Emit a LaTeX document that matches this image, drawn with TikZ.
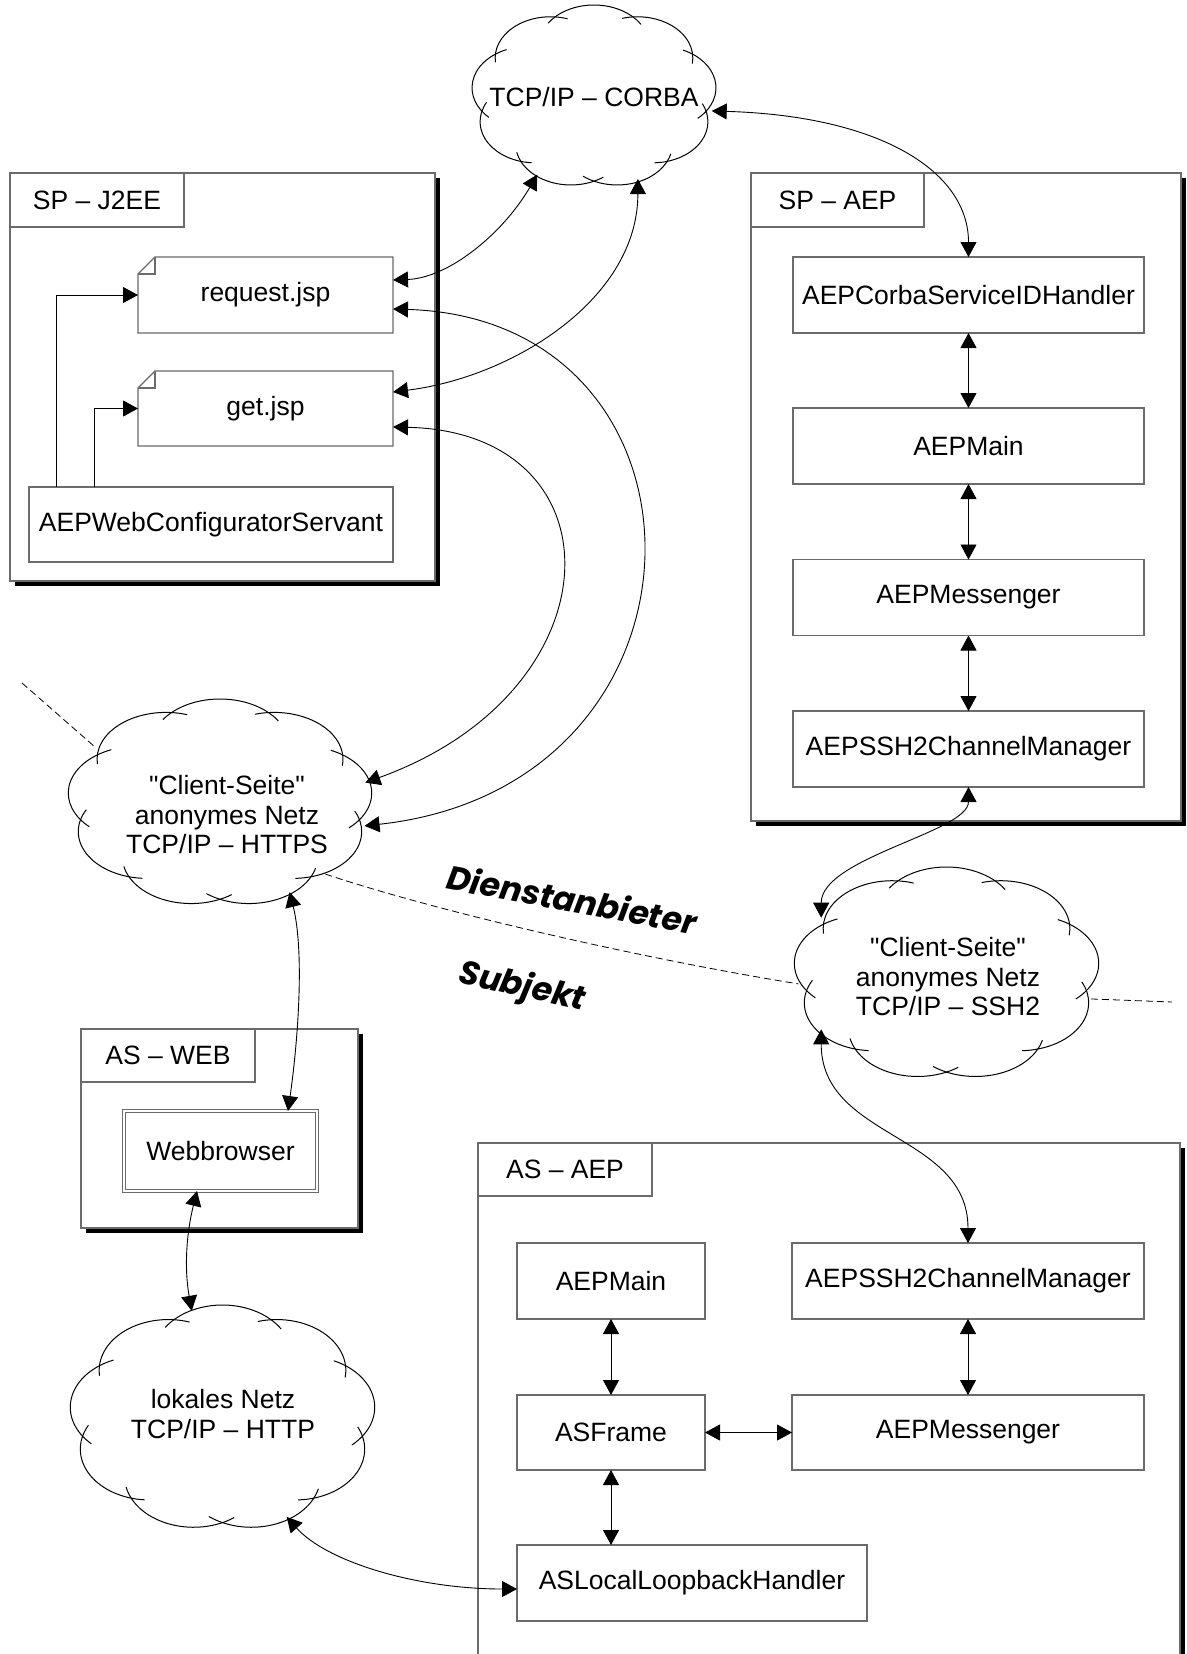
\documentclass[tikz,border=0pt]{standalone}
\usepackage{fontspec}
\setmainfont{Liberation Sans}
\newfontfamily\qfont{Liberation Sans}[Ligatures=TeXOff]
\newfontfamily\heavyfont{Poppins}
\usetikzlibrary{arrows.meta,shapes.geometric,shadows}
\definecolor{boxgray}{gray}{0.42}
\newcommand{\dq}{{\qfont"}}

\newcommand{\drawcloud}[4]{%
  \begin{scope}[shift={(#1,#2)},x=1pt,y=1pt,xscale=#3,yscale=#4]
    \foreach \t in {10,50,...,330}{
      \draw[cloudline] (\t:0.55) ++(\t-58:0.45) arc[start angle=\t-58,end angle=\t+56,radius=0.45];
    }
  \end{scope}}

\begin{document}
\begin{tikzpicture}[x=1pt,y=-1pt,
  every node/.style={font=\fontsize{26.5}{29.5}\selectfont},
  pkg/.style={draw=boxgray,line width=1.2pt,fill=white,anchor=north west,inner sep=0pt,outer sep=0pt,
    drop shadow={shadow xshift=5pt,shadow yshift=-5pt,fill=black,opacity=1}},
  tabbox/.style={draw=boxgray,line width=1.2pt,fill=white,anchor=north west,minimum width=174pt,minimum height=54pt,inner sep=0pt,outer sep=0pt},
  box/.style={draw=boxgray,line width=1.2pt,fill=white,inner sep=0pt,outer sep=0pt,minimum height=76pt,align=center},
  docline/.style={draw=boxgray,line width=1.2pt},
  cloudanchor/.style={ellipse,draw=none,inner sep=0pt,outer sep=0pt},
  cloudline/.style={line width=1pt,black},
  conn/.style={line width=0.9pt,{Triangle[length=15pt,width=16pt]}-{Triangle[length=15pt,width=16pt]}},
  arr/.style={line width=0.9pt,-{Triangle[length=15pt,width=16pt]}},
  divider/.style={line width=0.8pt,dash pattern=on 7pt off 4pt},
  heavy/.style={font=\heavyfont\bfseries\itshape\fontsize{33}{36}\selectfont,inner sep=0pt}
]
\fill[white] (0,0) rectangle (1186,1654);
\useasboundingbox (0,0) rectangle (1186,1654);

% ---------- packages ----------
\node[pkg,minimum width=425pt,minimum height=408pt] (j2ee) at (10,173) {};
\node[tabbox] (j2eeTab) at (j2ee.north west) {SP – J2EE};
\node[pkg,minimum width=430pt,minimum height=648pt] (spaep) at (751,173) {};
\node[tabbox,minimum width=173pt] (spaepTab) at (spaep.north west) {SP – AEP};
\node[pkg,minimum width=277pt,minimum height=199pt] (asweb) at (81,1029) {};
\node[tabbox,minimum height=53pt] (aswebTab) at (asweb.north west) {AS – WEB};
\node[pkg,minimum width=702pt,minimum height=560pt] (asaep) at (478,1143) {};
\node[tabbox,minimum height=53pt] (asaepTab) at (asaep.north west) {AS – AEP};

% ---------- SP - J2EE ----------
\node[box,draw=none,minimum width=255pt] (request) at (265.5,295) {request.jsp};
\draw[docline] ([yshift=-17pt]request.north west) -- ([xshift=17pt]request.north west) -- (request.north east) -- (request.south east) -- (request.south west) -- cycle;
\draw[docline] ([xshift=17pt]request.north west) -- ([shift={(17pt,-17pt)}]request.north west) -- ([yshift=-17pt]request.north west);
\node[box,draw=none,minimum width=255pt,minimum height=75pt] (get) at (265.5,408.5) {get.jsp};
\draw[docline] ([yshift=-17pt]get.north west) -- ([xshift=17pt]get.north west) -- (get.north east) -- (get.south east) -- (get.south west) -- cycle;
\draw[docline] ([xshift=17pt]get.north west) -- ([shift={(17pt,-17pt)}]get.north west) -- ([yshift=-17pt]get.north west);
\node[box,minimum width=364pt,minimum height=75pt] (servant) at (211,524.5) {AEPWebConfiguratorServant};
\draw[arr] ([xshift=27pt]servant.north west) |- (request.west);
\draw[arr] ([xshift=65pt]servant.north west) |- (get.west);

% ---------- SP - AEP ----------
\node[box,minimum width=351pt] (corbaH) at (968.5,295) {AEPCorbaServiceIDHandler};
\node[box,minimum width=351pt] (mainSP) at (968.5,446) {AEPMain};
\node[box,minimum width=351pt] (msgSP) at (968.5,597.5) {AEPMessenger};
\node[box,minimum width=351pt] (sshSP) at (968.5,749) {AEPSSH2ChannelManager};
\draw[conn] (corbaH.south) -- (mainSP.north);
\draw[conn] (mainSP.south) -- (msgSP.north);
\draw[conn] (msgSP.south) -- (sshSP.north);

% ---------- AS - WEB ----------
\node[box,double,double distance=2.5pt,line width=1pt,minimum width=193pt,minimum height=80pt] (web) at (220.5,1151) {Webbrowser};

% ---------- AS - AEP ----------
\node[box,minimum width=188pt] (mainAS) at (611,1281) {AEPMain};
\node[box,minimum width=352pt] (sshAS) at (968,1281) {AEPSSH2ChannelManager};
\node[box,minimum width=188pt,minimum height=75pt] (frame) at (611,1432.5) {ASFrame};
\node[box,minimum width=352pt,minimum height=75pt] (msgAS) at (968,1432.5) {AEPMessenger};
\node[box,minimum width=350pt] (loop) at (692,1583) {ASLocalLoopbackHandler};
\draw[conn] (mainAS.south) -- (frame.north);
\draw[conn] (sshAS.south) -- (msgAS.north);
\draw[conn] (frame.east) -- (msgAS.west);
\draw[conn] (frame.south) -- (frame.south |- loop.north);

% ---------- clouds ----------
\node[cloudanchor,minimum width=238.6pt,minimum height=177.5pt] (corba) at (594,96.5) {};
\drawcloud{594}{96.5}{123}{91.5}
\node (corbaT) at (594,97) {TCP/IP – CORBA};

\node[cloudanchor,minimum width=296.8pt,minimum height=201.8pt] (https) at (220,803) {};
\drawcloud{220}{803}{153}{104}
\node[align=center] (httpsT) at (227,815) {\dq Client-Seite\dq\\anonymes Netz\\TCP/IP – HTTPS};

\node[cloudanchor,minimum width=297.8pt,minimum height=206.6pt] (ssh) at (946.5,973.5) {};
\drawcloud{946.5}{973.5}{153.5}{106.5}
\node[align=center] (sshT) at (948,977) {\dq Client-Seite\dq\\anonymes Netz\\TCP/IP – SSH2};

\node[cloudanchor,minimum width=297.8pt,minimum height=219.2pt] (lokal) at (222.5,1418) {};
\drawcloud{222.5}{1418}{153.5}{113}
\node[align=center] (lokalT) at (223,1414) {lokales Netz\\TCP/IP – HTTP};

% ---------- connectors ----------
\draw[conn] ([yshift=15pt]request.east) .. controls +(55,-2) and +(-35,60) .. (corba.-126.5);
\draw[conn] ([yshift=16.5pt]get.east) .. controls +(120,-15) and +(0,120) .. (corba.-62.7);
\draw[conn] ([yshift=-14pt]request.east) .. controls +(335,10) and +(365,-40) .. (https.-9.2);
\draw[conn] ([yshift=-18.5pt]get.east) .. controls +(230,5) and +(255,-92) .. (https.8.6);
\draw[conn] (corba.-7) .. controls +(170,5) and +(0,-85) .. (corbaH.north);
\draw[conn] (sshSP.south) .. controls +(0,45) and +(0,-60) .. (ssh.156.3);
\draw[conn] (ssh.-156.9) .. controls +(0,110) and +(0,-110) .. (sshAS.north);
\draw[conn] (https.-52.9) .. controls +(15,60) and +(10,-70) .. ([xshift=-29pt]web.north east);
\draw[conn] ([xshift=-23.5pt]web.south) .. controls +(-10,40) and +(-8,-45) .. (lokal.106.1);
\draw[conn] (lokal.-57.1) .. controls +(40,45) and +(-100,0) .. ([yshift=-6pt]loop.west);

% ---------- divider ----------
\coordinate (dTL) at (22,683);
\coordinate (dR) at (1172,1002);
\draw[divider] (dTL) -- (https.156.3);
\draw[divider] (https.-34.7) .. controls +(123,41) and +(-143,-23) .. (ssh.-176.8);
\draw[divider] (ssh.-10.4) -- (dR);

\node[heavy,rotate=-10.5] (dienst) at (572,899) {Dienstanbieter};
\node[heavy,rotate=-12.5] (subj) at (522,988) {Subjekt};
\end{tikzpicture}
\end{document}
